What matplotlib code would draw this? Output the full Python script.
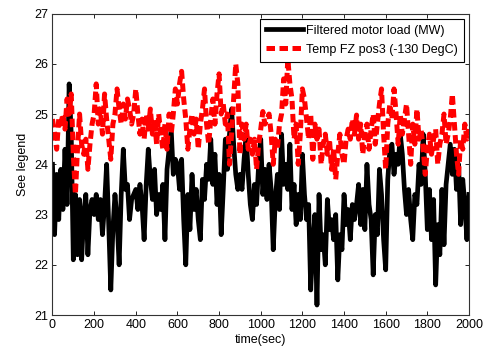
import numpy as np
import matplotlib
matplotlib.use("Agg")
import matplotlib.pyplot as plt

plt.rcParams['font.family'] = ['Liberation Sans', 'DejaVu Sans']

# sample time (sec), one value every 10 s
time_sec = np.arange(0, 2001, 10)

# Filtered motor load (MW)
motor_load = [
    24.0, 22.6, 23.8, 22.9, 23.9, 23.1, 24.3, 23.2, 25.6, 24.6,
    22.1, 23.4, 22.2, 23.3, 22.1, 23.0, 23.4, 22.2, 23.1, 23.3,
    23.0, 23.4, 22.9, 23.3, 22.6, 23.2, 24.0, 22.8, 21.5, 22.7,
    23.4, 22.9, 22.0, 23.4, 24.3, 23.5, 23.6, 22.9, 23.3, 23.4,
    23.5, 23.1, 23.6, 23.2, 22.5, 23.6, 24.3, 23.7, 23.3, 23.9,
    23.0, 23.4, 23.1, 23.6, 22.5, 23.9, 24.3, 24.7, 23.8, 24.1,
    24.0, 23.5, 24.1, 22.9, 22.0, 23.4, 22.7, 23.8, 23.1, 23.5,
    22.9, 22.5, 23.7, 23.3, 24.0, 23.7, 24.5, 23.6, 24.2, 23.2,
    23.8, 22.6, 23.5, 24.5, 23.9, 24.6, 25.1, 24.4, 23.8, 23.5,
    23.8, 23.5, 24.1, 24.6, 23.8, 23.2, 22.9, 23.6, 23.2, 24.0,
    24.5, 23.4, 23.9, 23.3, 24.0, 23.5, 22.3, 23.3, 23.8, 23.1,
    24.6, 23.6, 24.0, 23.5, 24.4, 23.1, 23.6, 22.8, 23.4, 22.9,
    24.2, 23.4, 22.9, 23.2, 21.5, 22.4, 23.0, 21.2, 23.4, 22.3,
    22.6, 22.0, 23.3, 22.7, 22.9, 22.5, 23.0, 21.7, 22.6, 22.3,
    23.4, 22.8, 23.1, 22.5, 23.2, 22.9, 23.2, 23.6, 22.8, 23.5,
    22.7, 24.0, 23.2, 22.9, 21.8, 23.0, 22.6, 23.9, 23.4, 22.5,
    21.9, 23.7, 24.3, 24.4, 23.8, 24.2, 24.0, 24.6, 24.2, 23.5,
    23.0, 23.5, 22.9, 22.5, 23.4, 23.2, 24.0, 23.6, 24.6, 23.8,
    22.7, 23.5, 22.5, 23.3, 21.6, 22.8, 22.2, 23.5, 22.4, 23.6,
    24.0, 24.4, 23.8, 24.3, 23.5, 24.0, 22.8, 23.7, 23.2, 22.5,
    23.4,
]

# Temp FZ pos3 (-130 DegC)
temp_fz = [
    24.9, 24.6, 24.3, 24.9, 24.8, 25.0, 24.7, 25.3, 25.0, 25.4,
    24.2, 23.4, 24.3, 25.0, 24.4, 24.2, 24.5, 23.9, 24.4, 24.8,
    25.0, 25.6, 24.8, 25.1, 24.6, 25.4, 24.9, 24.5, 24.1, 24.8,
    25.0, 25.5, 25.1, 24.8, 25.2, 24.9, 25.3, 25.1, 24.8, 25.0,
    25.5, 25.0, 24.6, 24.9, 24.5, 25.0, 24.7, 25.1, 24.6, 24.9,
    24.4, 25.0, 24.6, 24.3, 24.8, 24.3, 25.0, 24.6, 25.0, 25.5,
    25.2, 25.6, 25.85, 25.3, 24.9, 24.3, 24.7, 25.0, 24.6, 24.9,
    24.3, 24.8, 25.1, 25.5, 24.8, 24.4, 24.9, 25.3, 24.8, 25.4,
    25.8, 25.0, 25.2, 24.8, 25.0, 24.0, 24.6, 25.3, 26.0, 25.6,
    24.2, 24.8, 24.5, 24.8, 24.3, 24.5, 24.2, 24.5, 23.9, 24.4,
    24.7, 25.05, 24.8, 24.9, 25.0, 24.6, 24.0, 24.5, 24.3, 24.8,
    25.0, 25.7, 25.2, 26.1, 25.6, 25.3, 24.5, 24.8, 24.0, 24.6,
    25.5, 25.3, 24.9, 24.5, 25.0, 24.1, 24.8, 24.5, 24.7, 24.0,
    24.4, 24.6, 24.2, 24.5, 23.9, 24.3, 23.7, 24.2, 24.6, 24.2,
    24.0, 24.5, 24.7, 24.5, 24.9, 24.6, 24.98, 24.5, 24.8, 24.2,
    24.6, 24.8, 24.3, 24.7, 25.0, 24.4, 24.8, 25.2, 25.5, 24.6,
    23.9, 24.8, 25.2, 24.9, 25.5, 25.0, 24.4, 25.0, 24.6, 24.9,
    25.2, 24.6, 24.0, 24.8, 24.4, 25.1, 24.5, 24.7, 24.3, 23.8,
    24.3, 24.6, 24.2, 24.5, 24.7, 24.0, 24.4, 24.6, 25.0, 24.4,
    24.6, 24.9, 25.4, 24.8, 24.2, 23.8, 24.5, 24.3, 24.8, 24.5,
    24.7,
]

fig = plt.figure(figsize=(4.86, 3.47), dpi=100, facecolor='w')
ax = fig.add_axes([0.108, 0.092, 0.857, 0.869])

ax.plot(time_sec, motor_load, color='k', linewidth=3.4,
        label='Filtered motor load (MW)')
ax.plot(time_sec, temp_fz, color='#ff0000', linewidth=3.6,
        linestyle=(0, (1.7, 0.9)), label='Temp FZ pos3 (-130 DegC)')

ax.set_xlim(0, 2000)
ax.set_ylim(21, 27)
ax.set_xticks(np.arange(0, 2001, 200))
ax.set_yticks(np.arange(21, 28, 1))
ax.tick_params(direction='in', top=True, right=True, length=3,
               labelsize=9, width=0.6, pad=3)
for s in ax.spines.values():
    s.set_color('#333333')
    s.set_linewidth(0.8)

ax.set_xlabel('time(sec)', fontsize=9, labelpad=2)
ax.set_ylabel('See legend', fontsize=9, labelpad=4)

leg = ax.legend(loc='upper right', fontsize=9, fancybox=False,
                edgecolor='k', framealpha=1, handlelength=3.0,
                handletextpad=0.2, borderaxespad=0.4, borderpad=0.5,
                labelspacing=0.55)
leg.get_frame().set_linewidth(0.8)

plt.savefig('out.png', dpi=100)
